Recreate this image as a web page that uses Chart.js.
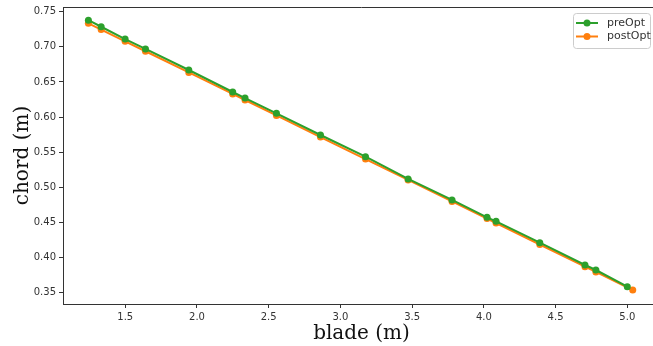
<!DOCTYPE html>
<html>
<head>
<meta charset="utf-8">
<script src="https://cdn.jsdelivr.net/npm/chart.js@4"></script>
<style>
  html, body { margin: 0; padding: 0; background: #fff; overflow: hidden; }
  #wrap { width: 653px; height: 346px; overflow: hidden; position: relative; }
  canvas { display: block; }
</style>
</head>
<body>
<div id="wrap"><canvas id="chordChart" width="660" height="346"></canvas></div>
<script>
// blade station positions (m) and chord lengths (m)
const preBlade = [1.243, 1.332, 1.499, 1.641, 1.943, 2.249, 2.335, 2.554, 2.861, 3.175, 3.472, 3.778, 4.022, 4.085, 4.390, 4.705, 4.781, 5.000];
const preChord = [0.738, 0.7286, 0.711, 0.697, 0.667, 0.6357, 0.627, 0.6054, 0.5745, 0.5436, 0.5119, 0.482, 0.4573, 0.4516, 0.4212, 0.3894, 0.3823, 0.3585];

const postBlade = [1.243, 1.332, 1.499, 1.641, 1.943, 2.249, 2.335, 2.554, 2.861, 3.175, 3.472, 3.778, 4.022, 4.085, 4.390, 4.705, 4.781, 5.038];
const postChord = [0.7335, 0.7246, 0.7079, 0.6937, 0.6635, 0.6330, 0.6243, 0.6023, 0.5716, 0.5402, 0.5105, 0.4799, 0.4555, 0.4492, 0.4186, 0.3871, 0.3795, 0.3538];

const bladeTicks = [1.5, 2.0, 2.5, 3.0, 3.5, 4.0, 4.5, 5.0];
const chordTicks = [0.35, 0.40, 0.45, 0.50, 0.55, 0.60, 0.65, 0.70, 0.75];

const tickFont = { family: 'DejaVu Sans', size: 10 };
const titleFont = { family: 'DejaVu Serif', size: 20 };
const axisColor = '#333';

const toPoints = (xs, ys) => xs.map((x, i) => ({ x: x, y: ys[i] }));

// top spine (the right one falls outside the page)
const framePlugin = {
  id: 'frame',
  afterDraw(chart) {
    const { ctx, chartArea: a } = chart;
    ctx.save();
    ctx.strokeStyle = axisColor;
    ctx.lineWidth = 1;
    ctx.beginPath();
    ctx.moveTo(a.left, a.top + 0.5);
    ctx.lineTo(a.right, a.top + 0.5);
    ctx.stroke();
    ctx.restore();
  }
};

// legend box in the upper right corner, line + marker handles
const boxLegend = {
  id: 'boxLegend',
  afterDraw(chart) {
    const { ctx, chartArea: a } = chart;
    const right = a.right - 10, left = right - 77;
    const top = a.top + 6, bottom = top + 35;
    ctx.save();
    ctx.fillStyle = 'rgba(255,255,255,0.8)';
    ctx.strokeStyle = '#ccc';
    ctx.lineWidth = 1;
    ctx.beginPath();
    ctx.roundRect(left + 0.5, top + 0.5, right - left, bottom - top, 3);
    ctx.fill();
    ctx.stroke();
    ctx.font = '11px "DejaVu Sans"';
    ctx.textBaseline = 'middle';
    chart.data.datasets.forEach((ds, i) => {
      const y = top + 10 + i * 13.5;
      ctx.strokeStyle = ds.borderColor;
      ctx.lineWidth = 2;
      ctx.beginPath();
      ctx.moveTo(left + 3, y);
      ctx.lineTo(left + 25, y);
      ctx.stroke();
      ctx.fillStyle = ds.borderColor;
      ctx.beginPath();
      ctx.arc(left + 14, y, 3.5, 0, Math.PI * 2);
      ctx.fill();
      ctx.fillStyle = '#333';
      ctx.fillText(ds.label, left + 34, y);
    });
    ctx.restore();
  }
};

const ctx = document.getElementById('chordChart').getContext('2d');

const chordChart = new Chart(ctx, {
  type: 'line',
  data: {
    datasets: [{
      label: 'preOpt',
      data: toPoints(preBlade, preChord),
      borderColor: '#2ca02c',
      backgroundColor: '#2ca02c',
      borderWidth: 2,
      pointRadius: 3.5,
      pointBorderWidth: 0,
      pointHoverRadius: 3.5
    }, {
      label: 'postOpt',
      data: toPoints(postBlade, postChord),
      borderColor: '#ff7f0e',
      backgroundColor: '#ff7f0e',
      borderWidth: 2,
      pointRadius: 3.5,
      pointBorderWidth: 0,
      pointHoverRadius: 3.5
    }]
  },
  options: {
    responsive: false,
    animation: false,
    layout: { autoPadding: false, padding: { top: 7, right: 0, bottom: 0, left: 0 } },
    plugins: {
      legend: { display: false },
      tooltip: { enabled: false }
    },
    scales: {
      x: {
        type: 'linear',
        min: 1.066,
        max: 5.228,
        afterBuildTicks: s => { s.ticks = bladeTicks.map(v => ({ value: v })); },
        afterFit: s => { s.height = 42; s.paddingLeft = 0; s.paddingRight = 0; },
        ticks: { callback: v => Number(v).toFixed(1), font: tickFont, color: axisColor, padding: 3, maxRotation: 0 },
        grid: { drawOnChartArea: false, tickLength: 4, color: axisColor },
        border: { color: axisColor },
        title: { display: true, text: 'blade (m)', font: titleFont, color: '#111', padding: 0 }
      },
      y: {
        type: 'linear',
        min: 0.3339,
        max: 0.7567,
        afterBuildTicks: s => { s.ticks = chordTicks.map(v => ({ value: v })); },
        afterFit: s => { s.width = 63; s.paddingTop = 0; s.paddingBottom = 0; },
        ticks: { callback: v => Number(v).toFixed(2), font: tickFont, color: axisColor, padding: 3 },
        grid: { drawOnChartArea: false, tickLength: 4, color: axisColor },
        border: { color: axisColor },
        title: { display: true, text: 'chord (m)', font: titleFont, color: '#111', padding: { top: 11, bottom: 0 } }
      }
    }
  },
  plugins: [framePlugin, boxLegend]
});
</script>
</body>
</html>
